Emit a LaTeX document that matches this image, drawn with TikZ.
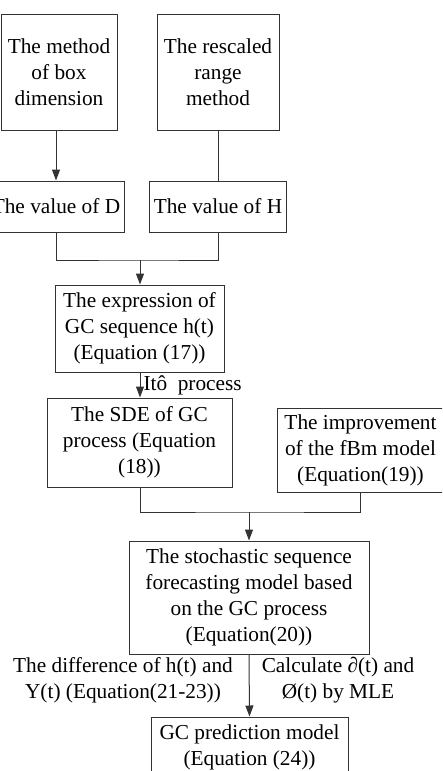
\documentclass[tikz,border=0pt]{standalone}
\usepackage{fontspec}
\setmainfont{Liberation Serif}
\usetikzlibrary{arrows.meta}
\tikzset{
  box/.style={draw=black!80, line width=1pt, inner sep=0pt, align=center,
    font=\fontsize{21.3}{26}\selectfont},
  lbl/.style={inner sep=0pt, align=center, font=\fontsize{21.3}{26}\selectfont},
  conn/.style={draw=black!80, line width=1pt},
  arr/.style={conn, -{Triangle[length=11pt,width=8pt]}}
}
\begin{document}
\begin{tikzpicture}[x=1pt,y=-1pt]
\useasboundingbox (0,0) rectangle (442,771);
\fill[white] (0,0) rectangle (442,771);
\clip (0,0) rectangle (442,771);
\node[box, minimum width=116pt, minimum height=116pt] (m1) at (59,72) {The method\\of box\\dimension};
\node[box, minimum width=122pt, minimum height=116pt] (m2) at (218,72) {The rescaled\\range\\method};
\node[box, minimum width=136pt, minimum height=51pt] (vD) at (56,206.5) {The value of D};
\node[box, minimum width=137pt, minimum height=51pt] (vH) at (218,206.5) {The value of H};
\node[box, minimum width=169pt, minimum height=87pt] (ex) at (139.5,328.5) {The expression of\\GC sequence h(t)\\(Equation (17))};
\node[box, minimum width=185pt, minimum height=89pt] (sde) at (139.5,442.5) {The SDE of GC\\process (Equation\\(18))};
\node[box, minimum width=167pt, minimum height=84pt] (imp) at (360.5,450) {The improvement\\of the fBm model\\(Equation(19))};
\node[box, minimum width=240pt, minimum height=113pt] (sto) at (249,597.5) {The stochastic sequence\\forecasting model based\\on the GC process\\(Equation(20))};
\node[box, minimum width=197pt, minimum height=61pt] (gc) at (249.5,747.5) {GC prediction model\\(Equation (24))};
\coordinate (j1) at (140,260);
\coordinate (j2) at (249,512);
\draw[arr] (vD.north |- m1.south) -- (vD.north);
\draw[conn] (m2.south) -- (vH.north);
\draw[conn] (vD.south) |- (j1) -| (vH.south);
\draw[arr] (j1) -- (ex.north -| j1);
\draw[arr] (ex.south -| j1) -- node[lbl, anchor=west, xshift=3pt] (ito) {Itô\ \ process} (sde.north -| j1);
\draw[conn] (sde.south -| j1) |- (j2) -| (imp.south);
\draw[arr] (j2) -- (sto.north);
\draw[arr] (sto.south) -- (gc.north);
\node[lbl] (dl) at (123,680) {The difference of h(t) and\\Y(t) (Equation(21-23))};
\node[lbl] (dr) at (338,680) {Calculate ∂(t) and\\Ø(t) by MLE};
\end{tikzpicture}
\end{document}
